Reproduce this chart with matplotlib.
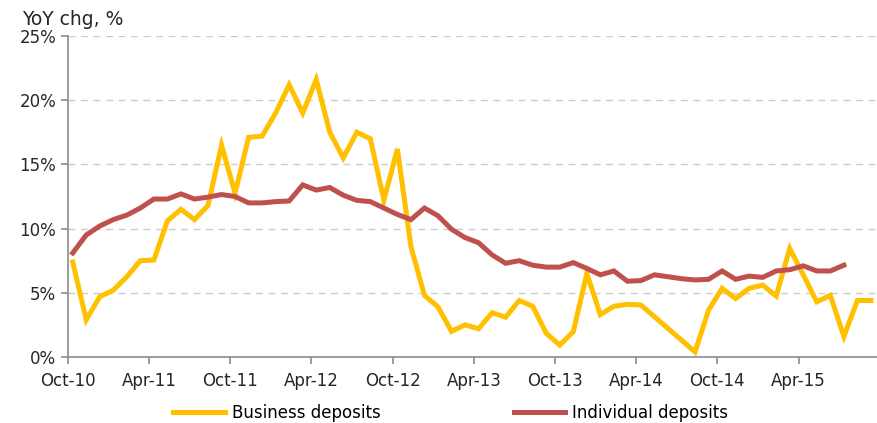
import numpy as np
import matplotlib.pyplot as plt

# month index 0 = Oct-10
tick_labels = ["Oct-10", "Apr-11", "Oct-11", "Apr-12", "Oct-12", "Apr-13",
               "Oct-13", "Apr-14", "Oct-14", "Apr-15"]

# business deposits (no data for months 43-45)
biz_months = list(range(0, 43)) + list(range(46, 60))
biz_values = [7.4, 2.9, 4.7, 5.2, 6.25, 7.5, 7.55, 10.6, 11.5, 10.7,
              11.8, 16.5, 12.75, 17.1, 17.2, 19.0, 21.2, 19.0, 21.6, 17.5,
              15.5, 17.5, 17.0, 12.2, 16.2, 8.6, 4.8, 3.9, 2.0, 2.5,
              2.2, 3.45, 3.1, 4.4, 3.95, 1.85, 0.93, 1.97, 6.5, 3.3,
              3.95, 4.1, 4.05,
              0.4, 3.65, 5.35, 4.55, 5.35, 5.6, 4.75, 8.45, 6.4, 4.3,
              4.8, 1.6, 4.4, 4.4]

# individual deposits
ind_months = list(range(0, 58))
ind_values = [8.1, 9.5, 10.2, 10.7, 11.05, 11.6, 12.3, 12.3, 12.7, 12.3,
              12.45, 12.65, 12.5, 12.0, 12.0, 12.1, 12.15, 13.4, 13.0, 13.2,
              12.6, 12.2, 12.1, 11.6, 11.1, 10.7, 11.6, 11.0, 9.95, 9.3,
              8.9, 7.95, 7.3, 7.5, 7.15, 7.0, 7.0, 7.35, 6.9, 6.4,
              6.7, 5.9, 5.95, 6.4, 6.25, 6.1, 6.0, 6.05, 6.7, 6.05,
              6.3, 6.2, 6.7, 6.8, 7.1, 6.7, 6.7, 7.15]

offset = 0.35  # points sit a little after the month tick

fig = plt.figure(figsize=(8.77, 4.23), dpi=100)
ax = fig.add_axes([0.0775, 0.156, 0.9225, 0.759])

ax.plot(np.array(biz_months) + offset, biz_values, color="#FFC000", lw=3.6,
        label="Business deposits", solid_joinstyle="miter")
ax.plot(np.array(ind_months) + offset, ind_values, color="#C0504D", lw=3.6,
        label="Individual deposits", solid_joinstyle="miter")

ax.set_xlim(0, 59.8)
ax.set_ylim(0, 25)
ax.set_xticks(np.arange(0, 60, 6))
ax.set_xticklabels(tick_labels)
ax.set_yticks(np.arange(0, 26, 5))
ax.set_yticklabels([f"{v}%" for v in range(0, 26, 5)])

ax.yaxis.grid(True, color="#CCCCCC", linestyle=(0, (5, 4)), lw=1)
ax.set_axisbelow(True)
for s in ["top", "right"]:
    ax.spines[s].set_visible(False)
for s in ["left", "bottom"]:
    ax.spines[s].set_color("#8C8C8C")
    ax.spines[s].set_linewidth(1.2)
ax.tick_params(axis="both", colors="#8C8C8C", length=5, width=1.2,
               labelsize=12, labelcolor="#262626")
ax.tick_params(axis="x", pad=6)

fig.text(0.025, 0.953, "YoY chg, %", fontsize=13.5, color="#262626",
         va="center", ha="left")

fig.legend(loc="center", bbox_to_anchor=(0.514, 0.024), ncol=2, frameon=False,
           fontsize=12, handlelength=3.1, handletextpad=0.4, columnspacing=8.0)

fig.savefig("out.png", dpi=100)
